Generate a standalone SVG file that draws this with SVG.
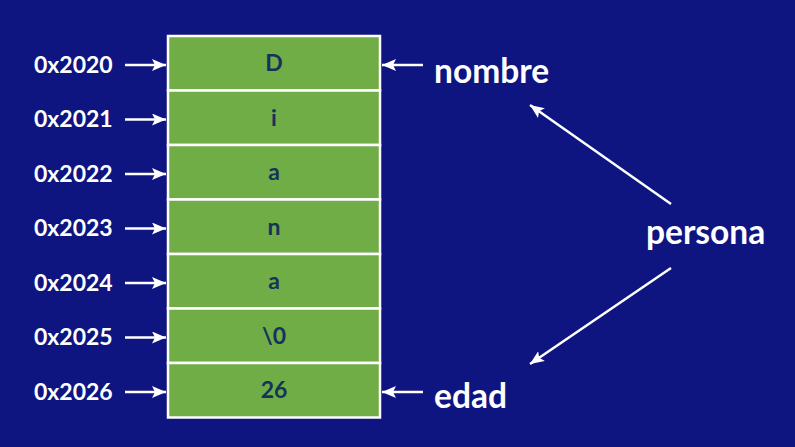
<svg xmlns="http://www.w3.org/2000/svg" width="795" height="447" viewBox="0 0 795 447">
<defs>
<marker id="ah" viewBox="0 0 14 12" refX="14" refY="6" markerWidth="14" markerHeight="12" markerUnits="userSpaceOnUse" orient="auto">
<path d="M0,0 L14,6 L0,12 L3,6 Z" fill="#fff"/>
</marker>
<style>
.cell{fill:#70AD47;stroke:#fff;stroke-width:2.5}
.ct{font-family:Lato,"Liberation Sans",sans-serif;font-weight:bold;font-size:23px;fill:#16325A;text-anchor:middle}
.ad{font-family:Lato,"Liberation Sans",sans-serif;font-weight:bold;font-size:23px;fill:#fff}
.lb{font-family:Lato,"Liberation Sans",sans-serif;font-weight:bold;font-size:33.5px;fill:#fff}
.cn{stroke:#fff;stroke-width:2.5;fill:none;marker-end:url(#ah)}
</style>
</defs>
<rect width="795" height="447" fill="#0E1581"/>
<g id="cell0"><rect class="cell" x="168" y="36" width="212" height="54.5"/><text class="ct" x="274" y="71">D</text><text class="ad" x="34" y="72.5">0x2020</text></g>
<g id="cell1"><rect class="cell" x="168" y="90.5" width="212" height="54.5"/><text class="ct" x="274" y="125.5">i</text><text class="ad" x="34" y="127">0x2021</text></g>
<g id="cell2"><rect class="cell" x="168" y="145" width="212" height="54.5"/><text class="ct" x="274" y="180">a</text><text class="ad" x="34" y="181.5">0x2022</text></g>
<g id="cell3"><rect class="cell" x="168" y="199.5" width="212" height="54.5"/><text class="ct" x="274" y="234.5">n</text><text class="ad" x="34" y="236">0x2023</text></g>
<g id="cell4"><rect class="cell" x="168" y="254" width="212" height="54.5"/><text class="ct" x="274" y="289">a</text><text class="ad" x="34" y="290.5">0x2024</text></g>
<g id="cell5"><rect class="cell" x="168" y="308.5" width="212" height="54.5"/><text class="ct" x="274" y="343.5">\0</text><text class="ad" x="34" y="345">0x2025</text></g>
<g id="cell6"><rect class="cell" x="168" y="363" width="212" height="54.5"/><text class="ct" x="274" y="398">26</text><text class="ad" x="34" y="399.5">0x2026</text></g>
<g id="nombre"><text class="lb" x="434" y="82.5">nombre</text></g>
<g id="edad"><text class="lb" x="434" y="408">edad</text></g>
<g id="persona"><text class="lb" x="646" y="244">persona</text></g>
<g id="connectors">
<line class="cn" x1="125" y1="65" x2="166" y2="65"/>
<line class="cn" x1="125" y1="119.5" x2="166" y2="119.5"/>
<line class="cn" x1="125" y1="174" x2="166" y2="174"/>
<line class="cn" x1="125" y1="228.5" x2="166" y2="228.5"/>
<line class="cn" x1="125" y1="283" x2="166" y2="283"/>
<line class="cn" x1="125" y1="337.5" x2="166" y2="337.5"/>
<line class="cn" x1="125" y1="392" x2="166" y2="392"/>
<line class="cn" x1="423" y1="65" x2="382" y2="65"/>
<line class="cn" x1="423" y1="392" x2="382" y2="392"/>
<line class="cn" x1="671" y1="204" x2="530" y2="105"/>
<line class="cn" x1="671" y1="268" x2="530" y2="364"/>
</g>
</svg>
